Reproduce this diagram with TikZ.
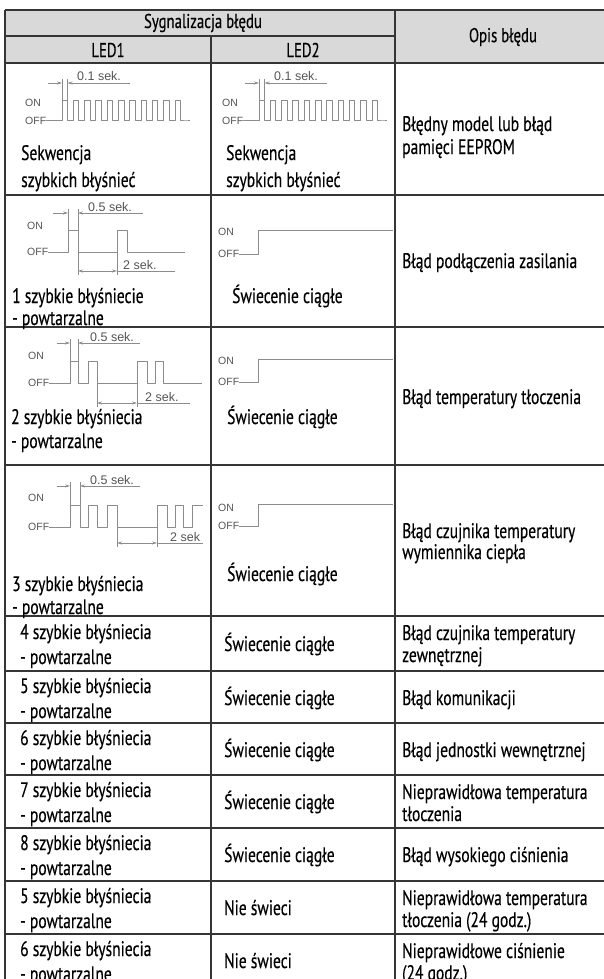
\documentclass[tikz,border=0pt]{standalone}
\usepackage{fontspec}
\setmainfont{PT Sans}[FakeStretch=0.74,FakeBold=0.35]
\newfontfamily\wavefont{Liberation Sans}
\usetikzlibrary{arrows.meta}
\definecolor{tabline}{HTML}{353535}
\definecolor{hdrfill}{HTML}{D9D9D9}
\definecolor{wavegray}{HTML}{8C8C8C}
\definecolor{labgray}{HTML}{555555}
\begin{document}
\begin{tikzpicture}[x=1pt,y=-1pt,
  gridline/.style={draw=tabline,line width=1.4pt},
  sigline/.style={draw=wavegray,line width=1pt,line join=round},
  dimline/.style={draw=wavegray,line width=0.7pt},
  tip/.style={-{Stealth[length=5pt,width=3pt]}},
  dimstart/.style={{Stealth[length=5pt,width=3pt]}-},
  dimboth/.style={{Stealth[length=5pt,width=3pt]}-{Stealth[length=5pt,width=3pt]}},
  onoff/.style={font=\wavefont\fontsize{10.5}{10.5}\selectfont,text=labgray,inner sep=0pt,anchor=west},
  seklbl/.style={font=\wavefont\fontsize{12.5}{12.5}\selectfont,text=labgray,inner sep=0pt,anchor=base west},
  cell/.style={font=\fontsize{21}{23}\selectfont,inner sep=0pt,anchor=base west},
  head/.style={font=\fontsize{20}{22}\selectfont,inner sep=0pt,anchor=center}]
\useasboundingbox (0,0) rectangle (604,979);
\clip (0,0) rectangle (604,979);
\fill[white] (0,0) rectangle (604,979);
\fill[hdrfill] (5,10) rectangle (604,63);
% grid
\draw[gridline] (5,10) -- (604,10);
\draw[gridline] (5,36) -- (395,36);
\draw[gridline] (5,63) -- (604,63);
\foreach \yy in {195,327,465,616,671,723,775,828,881,934} \draw[gridline] (5,\yy) -- (604,\yy);
\draw[gridline] (5,10) -- (5,990);
\draw[gridline] (211,36) -- (211,990);
\draw[gridline] (395,10) -- (395,990);
% headers
\node[head] (hsig) at (203,23) {Sygnalizacja błędu};
\node[head] (hled1) at (108,50) {LED1};
\node[head] (hled2) at (303,50) {LED2};
\node[head] (hopis) at (503,37) {Opis błędu};

% ---------- row 1 waveforms (LED1 and LED2)
\node[onoff] (on1a) at (25,103) {ON};
\node[onoff] (off1a) at (25,121) {OFF};
\draw[sigline] (off1a.east) -- (62,121)
  \foreach \i in {0,...,10}{ -- ({62+11.3*\i},101) -- ({67.5+11.3*\i},101) -- ({67.5+11.3*\i},121) -- ({73.3+11.3*\i},121)} -- (190,121);
\draw[dimline] (62,79) -- (62,101) (67.5,79) -- (67.5,101);
\draw[dimline,tip] (48,83) -- (62,83);
\draw[dimline,dimstart] (67.5,83) -- (130,83);
\node[seklbl] (s1a) at (77,81) {0.1 sek.};
\begin{scope}[xshift=197pt]
\node[onoff] (on1b) at (25,103) {ON};
\node[onoff] (off1b) at (25,121) {OFF};
\draw[sigline] (off1b.east) -- (62,121)
  \foreach \i in {0,...,10}{ -- ({62+11.3*\i},101) -- ({67.5+11.3*\i},101) -- ({67.5+11.3*\i},121) -- ({73.3+11.3*\i},121)} -- (190,121);
\draw[dimline] (62,79) -- (62,101) (67.5,79) -- (67.5,101);
\draw[dimline,tip] (48,83) -- (62,83);
\draw[dimline,dimstart] (67.5,83) -- (130,83);
\node[seklbl] (s1b) at (77,81) {0.1 sek.};
\end{scope}

% ---------- row 2 waveforms
\node[onoff] (on2a) at (27,226) {ON};
\node[onoff] (off2a) at (27,252) {OFF};
\draw[sigline] (off2a.east) -- (68,252) -- (68,230) -- (78,230) -- (78,252) -- (117,252) -- (117,230) -- (127,230) -- (127,252) -- (185,252);
\draw[dimline] (68,209) -- (68,230) (78,209) -- (78,230);
\draw[dimline,tip] (53,213) -- (68,213);
\draw[dimline,dimstart] (78,213) -- (143,213);
\node[seklbl] (s2a) at (88,211) {0.5 sek.};
\draw[dimline] (78,252) -- (78,275) (117,252) -- (117,275);
\draw[dimline,dimboth] (78,271) -- (117,271);
\draw[dimline] (117,271) -- (175,271);
\node[seklbl] (t2a) at (123,269) {2 sek.};
\node[onoff] (on2b) at (218,232) {ON};
\node[onoff] (off2b) at (218,254) {OFF};
\draw[sigline] (off2b.east) -- (258,254) -- (258,230) -- (393,230);

% ---------- row 3 waveforms
\node[onoff] (on3a) at (28,356) {ON};
\node[onoff] (off3a) at (28,383) {OFF};
\draw[sigline] (off3a.east) -- (70,383) -- (70,361) -- (78,361) -- (78,383) -- (88,383) -- (88,361) -- (97,361) -- (97,383) -- (137,383) -- (137,361) -- (147,361) -- (147,383) -- (155,383) -- (155,361) -- (163,361) -- (163,383) -- (202,383);
\draw[dimline] (70,339) -- (70,361) (78,339) -- (78,361);
\draw[dimline,tip] (57,343) -- (70,343);
\draw[dimline,dimstart] (78,343) -- (140,343);
\node[seklbl] (s3a) at (90,341) {0.5 sek.};
\draw[dimline] (97,383) -- (97,407) (137,383) -- (137,407);
\draw[dimline,dimboth] (97,403) -- (137,403);
\draw[dimline] (137,403) -- (190,403);
\node[seklbl] (t3a) at (145,401) {2 sek.};
\node[onoff] (on3b) at (218,361) {ON};
\node[onoff] (off3b) at (218,382) {OFF};
\draw[sigline] (off3b.east) -- (258,382) -- (258,359) -- (393,359);

% ---------- row 4 waveforms
\node[onoff] (on4a) at (28,498) {ON};
\node[onoff] (off4a) at (28,527) {OFF};
\draw[sigline] (off4a.east) -- (70,527) -- (70,505) -- (80,505) -- (80,527) -- (88,527) -- (88,505) -- (97,505) -- (97,527) -- (107,527) -- (107,505) -- (117,505) -- (117,527) -- (157,527) -- (157,505) -- (167,505) -- (167,527) -- (175,527) -- (175,505) -- (183,505) -- (183,527) -- (192,527) -- (192,505) -- (203,505);
\draw[dimline] (70,482) -- (70,505) (80,482) -- (80,505);
\draw[dimline,tip] (57,486) -- (70,486);
\draw[dimline,dimstart] (80,486) -- (140,486);
\node[seklbl] (s4a) at (90,484) {0.5 sek.};
\draw[dimline] (117,527) -- (117,547) (157,527) -- (157,547);
\draw[dimline,dimboth] (117,543) -- (157,543);
\draw[dimline] (157,543) -- (203,543);
\node[seklbl] (t4a) at (170,541) {2 sek};
\node[onoff] (on4b) at (218,508) {ON};
\node[onoff] (off4b) at (218,526) {OFF};
\draw[sigline] (off4b.east) -- (258,526) -- (258,504) -- (393,504);

% ---------- texts
\node[cell] (c11a) at (21,160) {Sekwencja};
\node[cell] (c11b) at (21,187) {szybkich błyśnieć};
\node[cell] (c12a) at (226,160) {Sekwencja};
\node[cell] (c12b) at (226,187) {szybkich błyśnieć};
\node[cell] (c13a) at (402,131) {Błędny model lub błąd};
\node[cell] (c13b) at (402,154) {pamięci EEPROM};

\node[cell] (c21a) at (12,303) {1 szybkie błyśniecie};
\node[cell] (c21b) at (12,325) {- powtarzalne};
\node[cell] (c22) at (232,303) {Świecenie ciągłe};
\node[cell] (c23) at (402,268) {Błąd podłączenia zasilania};

\node[cell] (c31a) at (11,424) {2 szybkie błyśniecia};
\node[cell] (c31b) at (11,448) {- powtarzalne};
\node[cell] (c32) at (227,424) {Świecenie ciągłe};
\node[cell] (c33) at (402,404) {Błąd temperatury tłoczenia};

\node[cell] (c41a) at (12,591) {3 szybkie błyśniecia};
\node[cell] (c41b) at (12,614) {- powtarzalne};
\node[cell] (c42) at (227,581) {Świecenie ciągłe};
\node[cell] (c43a) at (402,538) {Błąd czujnika temperatury};
\node[cell] (c43b) at (402,559) {wymiennika ciepła};

% small rows
\node[cell] (c51a) at (20,639) {4 szybkie błyśniecia};
\node[cell] (c51b) at (20,664) {- powtarzalne};
\node[cell] (c52) at (224,651) {Świecenie ciągłe};
\node[cell] (c53a) at (402,640) {Błąd czujnika temperatury};
\node[cell] (c53b) at (402,662) {zewnętrznej};

\node[cell] (c61a) at (20,693) {5 szybkie błyśniecia};
\node[cell] (c61b) at (20,718) {- powtarzalne};
\node[cell] (c62) at (224,705) {Świecenie ciągłe};
\node[cell] (c63) at (402,705) {Błąd komunikacji};

\node[cell] (c71a) at (20,745) {6 szybkie błyśniecia};
\node[cell] (c71b) at (20,770) {- powtarzalne};
\node[cell] (c72) at (224,757) {Świecenie ciągłe};
\node[cell] (c73) at (402,757) {Błąd jednostki wewnętrznej};

\node[cell] (c81a) at (20,797) {7 szybkie błyśniecia};
\node[cell] (c81b) at (20,822) {- powtarzalne};
\node[cell] (c82) at (224,809) {Świecenie ciągłe};
\node[cell] (c83a) at (402,799) {Nieprawidłowa temperatura};
\node[cell] (c83b) at (402,821) {tłoczenia};

\node[cell] (c91a) at (20,850) {8 szybkie błyśniecia};
\node[cell] (c91b) at (20,875) {- powtarzalne};
\node[cell] (c92) at (224,862) {Świecenie ciągłe};
\node[cell] (c93) at (402,862) {Błąd wysokiego ciśnienia};

\node[cell] (ca1a) at (20,903) {5 szybkie błyśniecia};
\node[cell] (ca1b) at (20,928) {- powtarzalne};
\node[cell] (ca2) at (224,915) {Nie świeci};
\node[cell] (ca3a) at (402,905) {Nieprawidłowa temperatura};
\node[cell] (ca3b) at (402,927) {tłoczenia (24 godz.)};

\node[cell] (cb1a) at (20,956) {6 szybkie błyśniecia};
\node[cell] (cb1b) at (20,981) {- powtarzalne};
\node[cell] (cb2) at (224,968) {Nie świeci};
\node[cell] (cb3a) at (402,958) {Nieprawidłowe ciśnienie};
\node[cell] (cb3b) at (402,980) {(24 godz.)};
\end{tikzpicture}
\end{document}
